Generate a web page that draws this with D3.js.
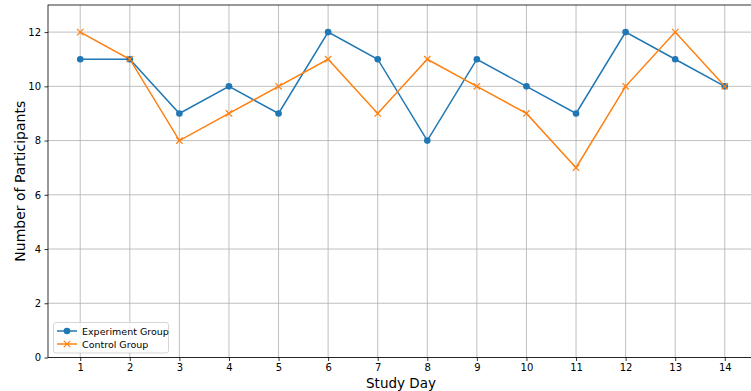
<!DOCTYPE html>
<html><head><meta charset="utf-8">
<script src="https://cdn.jsdelivr.net/npm/d3@7"></script>
<style>body{margin:0;background:#fff}svg{display:block;font-family:"DejaVu Sans",sans-serif}</style>
</head><body><svg id="c" width="751" height="391"></svg>
<script>
const days = [1,2,3,4,5,6,7,8,9,10,11,12,13,14];
const experiment = [11,11,9,10,9,12,11,8,11,10,9,12,11,10];
const control = [12,11,8,9,10,11,9,11,10,9,7,10,12,10];
const yTicks = [0,2,4,6,8,10,12];
const seriesNames = ["Experiment Group","Control Group"];
const colors = ["#1f77b4","#ff7f0e"];

const svg = d3.select("#c");
const L=48, R=757, T=5, B=357.5;
const x = d3.scaleLinear().domain([0.35,14.65]).range([L,R]);
const y = d3.scaleLinear().domain([0,13]).range([B,T]);

const g = svg.append("g");
// grid
g.selectAll(".gx").data(days).enter().append("line")
 .attr("x1",d=>x(d)).attr("x2",d=>x(d)).attr("y1",T).attr("y2",B)
 .attr("stroke","#b0b0b0").attr("stroke-width",0.8);
g.selectAll(".gy").data(yTicks).enter().append("line")
 .attr("x1",L).attr("x2",R).attr("y1",d=>y(d)).attr("y2",d=>y(d))
 .attr("stroke","#b0b0b0").attr("stroke-width",0.8);

// axes
const xa = svg.append("g").attr("transform",`translate(0,${B})`)
 .call(d3.axisBottom(x).tickValues(days).tickSize(3.5).tickPadding(3).tickSizeOuter(0));
const ya = svg.append("g").attr("transform",`translate(${L},0)`)
 .call(d3.axisLeft(y).tickValues(yTicks).tickSize(3.5).tickPadding(3.5).tickSizeOuter(0));
[xa,ya].forEach(a=>{a.select(".domain").remove();a.selectAll("text").attr("font-size",10).attr("fill","#000").attr("font-family","DejaVu Sans");a.selectAll("line").attr("stroke","#000").attr("stroke-width",0.8);});

// spines
svg.append("rect").attr("x",L).attr("y",T).attr("width",R-L).attr("height",B-T)
 .attr("fill","none").attr("stroke","#000").attr("stroke-width",0.8);

const line = d3.line().x((d,i)=>x(days[i])).y(d=>y(d));
[experiment,control].forEach((s,k)=>{
  svg.append("path").datum(s).attr("d",line).attr("fill","none").attr("stroke",colors[k]).attr("stroke-width",1.5);
});
svg.selectAll(".dot").data(experiment).enter().append("circle")
 .attr("cx",(d,i)=>x(days[i])).attr("cy",d=>y(d)).attr("r",3.3).attr("fill",colors[0]);
const xs = 3.2;
svg.selectAll(".xm").data(control).enter().append("path")
 .attr("d",(d,i)=>{const cx=x(days[i]),cy=y(d);return `M${cx-xs},${cy-xs}L${cx+xs},${cy+xs}M${cx-xs},${cy+xs}L${cx+xs},${cy-xs}`;})
 .attr("stroke",colors[1]).attr("stroke-width",1.2).attr("fill","none");

// labels
svg.append("text").attr("x",401).attr("y",387.5).attr("text-anchor","middle").attr("font-size",13.5).text("Study Day");
svg.append("text").attr("transform",`translate(25,${(T+B)/2}) rotate(-90)`).attr("text-anchor","middle").attr("font-size",14).text("Number of Participants");

// legend
const lg = svg.append("g");
lg.append("rect").attr("x",53.5).attr("y",322.5).attr("width",115).attr("height",30.5).attr("rx",2.5)
 .attr("fill","#fff").attr("fill-opacity",0.8).attr("stroke","#ccc").attr("stroke-width",0.8);
seriesNames.forEach((n,k)=>{
  const yy = 331 + k*13;
  lg.append("line").attr("x1",57).attr("x2",77).attr("y1",yy).attr("y2",yy).attr("stroke",colors[k]).attr("stroke-width",1.5);
  if(k===0) lg.append("circle").attr("cx",67).attr("cy",yy).attr("r",3.3).attr("fill",colors[0]);
  else lg.append("path").attr("d",`M${67-xs},${yy-xs}L${67+xs},${yy+xs}M${67-xs},${yy+xs}L${67+xs},${yy-xs}`).attr("stroke",colors[1]).attr("stroke-width",1.2);
  lg.append("text").attr("x",82).attr("y",yy+3.5).attr("font-size",9.5).text(n);
});
</script></body></html>
